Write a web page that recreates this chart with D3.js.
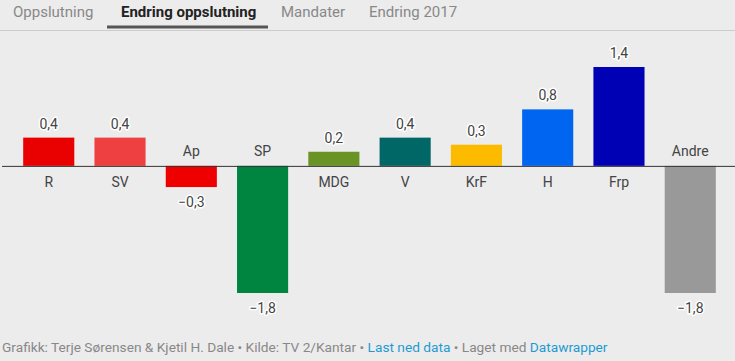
<!DOCTYPE html>
<html>
<head>
<meta charset="utf-8">
<script src="https://cdn.jsdelivr.net/npm/d3@7"></script>
<style>
  body { margin:0; background:#ececec; font-family: Roboto, "Noto Sans", sans-serif; }
  svg { display:block; }
</style>
</head>
<body>
<svg id="chart" width="735" height="361"></svg>
<script>
// data
var parties = ["R", "SV", "Ap", "SP", "MDG", "V", "KrF", "H", "Frp", "Andre"];
var changes = [0.4, 0.4, -0.3, -1.8, 0.2, 0.4, 0.3, 0.8, 1.4, -1.8];
var colors = ["#e90000", "#ee4040", "#ee0000", "#008540", "#6a9325", "#006666", "#fdbb00", "#0065f0", "#0000b4", "#999999"];
var tabs = ["Oppslutning", "Endring oppslutning", "Mandater", "Endring 2017"];

var svg = d3.select("#chart");

// tabs
var tabX = [13, 121, 281, 369];
svg.append("line").attr("x1", 0).attr("x2", 735).attr("y1", 30.5).attr("y2", 30.5)
   .attr("stroke", "#cccccc").attr("stroke-width", 1);
svg.selectAll("text.tab").data(tabs).enter().append("text")
   .attr("class", "tab")
   .attr("x", function(d, i) { return tabX[i]; })
   .attr("y", 17)
   .attr("font-size", 15)
   .attr("font-weight", function(d, i) { return i == 1 ? 700 : 400; })
   .attr("fill", function(d, i) { return i == 1 ? "#222" : "#888"; })
   .text(function(d) { return d; });
svg.append("rect").attr("x", 107).attr("y", 25.5).attr("width", 161).attr("height", 3).attr("fill", "#555");

// scales
var x = d3.scaleBand().domain(parties).range([12.5, 726.5]).paddingInner(0.283).paddingOuter(0.15);
var y = d3.scaleLinear().domain([-1.8, 1.4]).range([293, 67]);
var fmt = function(v) { return d3.format(".1f")(v).replace(".", ",").replace("-", "\u2212"); };

var g = svg.append("g");
g.selectAll("rect.bar").data(changes).enter().append("rect")
  .attr("class", "bar")
  .attr("x", function(d, i) { return x(parties[i]); })
  .attr("width", x.bandwidth())
  .attr("y", function(d) { return y(Math.max(0, d)); })
  .attr("height", function(d) { return Math.abs(y(d) - y(0)); })
  .attr("fill", function(d, i) { return colors[i]; });

// baseline
svg.append("line").attr("x1", 2).attr("x2", 735).attr("y1", y(0) + 0.5).attr("y2", y(0) + 0.5)
   .attr("stroke", "#333").attr("stroke-width", 1);

// category labels
g.selectAll("text.cat").data(changes).enter().append("text")
  .attr("class", "cat")
  .attr("x", function(d, i) { return x(parties[i]) + x.bandwidth() / 2; })
  .attr("y", function(d) { return d >= 0 ? y(0) + 21 : y(0) - 10; })
  .attr("text-anchor", "middle").attr("font-size", 14).attr("fill", "#444")
  .text(function(d, i) { return parties[i]; });

// value labels
g.selectAll("text.val").data(changes).enter().append("text")
  .attr("class", "val")
  .attr("x", function(d, i) { return x(parties[i]) + x.bandwidth() / 2; })
  .attr("y", function(d) { return d >= 0 ? y(d) - 9 : y(d) + 20; })
  .attr("text-anchor", "middle").attr("font-size", 14).attr("fill", "#444")
  .attr("stroke", "#fff").attr("stroke-width", 3).attr("paint-order", "stroke")
  .attr("stroke-linejoin", "round")
  .text(function(d) { return fmt(d); });

// footer
var foot = svg.append("text").attr("x", 2).attr("y", 352).attr("font-size", 13.7).attr("fill", "#888");
foot.append("tspan").text("Grafikk: Terje Sørensen & Kjetil H. Dale • Kilde: TV 2/Kantar • ");
foot.append("tspan").attr("fill", "#1d9bd1").text("Last ned data");
foot.append("tspan").text(" • Laget med ");
foot.append("tspan").attr("fill", "#1d9bd1").text("Datawrapper");
</script>
</body>
</html>
